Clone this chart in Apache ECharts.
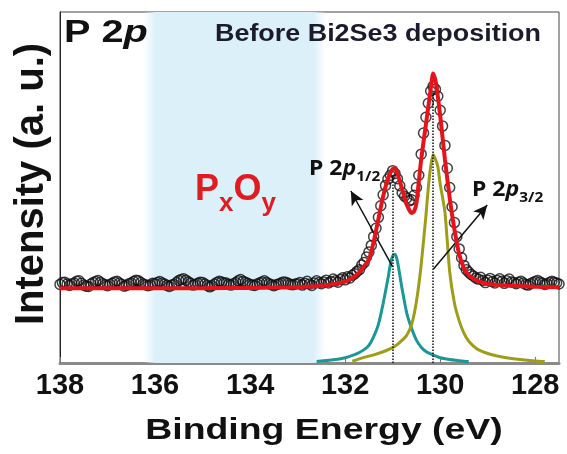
<!DOCTYPE html>
<html>
<head>
<meta charset="utf-8">
<script src="https://cdn.jsdelivr.net/npm/echarts@6.0.0/dist/echarts.min.js"></script>
<style>
  html, body { margin: 0; padding: 0; background: #fff; }
  #chart { width: 567px; height: 454px; }
</style>
</head>
<body>
<div id="chart"></div>
<script>
// measured spectrum (binding energy in eV, intensity in arbitrary units)
const expE = [
  138.00, 137.95, 137.90, 137.85, 137.80, 137.75, 137.70, 137.65, 137.60, 137.55,
  137.50, 137.45, 137.40, 137.35, 137.30, 137.25, 137.20, 137.15, 137.10, 137.05,
  137.00, 136.95, 136.90, 136.85, 136.80, 136.75, 136.70, 136.65, 136.60, 136.55,
  136.50, 136.45, 136.40, 136.35, 136.30, 136.25, 136.20, 136.15, 136.10, 136.05,
  136.00, 135.95, 135.90, 135.85, 135.80, 135.75, 135.70, 135.65, 135.60, 135.55,
  135.50, 135.45, 135.40, 135.35, 135.30, 135.25, 135.20, 135.15, 135.10, 135.05,
  135.00, 134.95, 134.90, 134.85, 134.80, 134.75, 134.70, 134.65, 134.60, 134.55,
  134.50, 134.45, 134.40, 134.35, 134.30, 134.25, 134.20, 134.15, 134.10, 134.05,
  134.00, 133.95, 133.90, 133.85, 133.80, 133.75, 133.70, 133.65, 133.60, 133.55,
  133.50, 133.45, 133.40, 133.35, 133.30, 133.25, 133.20, 133.15, 133.10, 133.05,
  133.00, 132.95, 132.90, 132.85, 132.80, 132.75, 132.70, 132.65, 132.60, 132.55,
  132.50, 132.45, 132.40, 132.35, 132.30, 132.25, 132.20, 132.15, 132.10, 132.05,
  132.00, 131.95, 131.90, 131.85, 131.80, 131.75, 131.70, 131.65, 131.60, 131.55,
  131.50, 131.45, 131.40, 131.35, 131.30, 131.25, 131.20, 131.15, 131.10, 131.05,
  131.00, 130.95, 130.90, 130.85, 130.80, 130.75, 130.70, 130.65, 130.60, 130.55,
  130.50, 130.45, 130.40, 130.35, 130.30, 130.25, 130.20, 130.15, 130.10, 130.05,
  130.00, 129.95, 129.90, 129.85, 129.80, 129.75, 129.70, 129.65, 129.60, 129.55,
  129.50, 129.45, 129.40, 129.35, 129.30, 129.25, 129.20, 129.15, 129.10, 129.05,
  129.00, 128.95, 128.90, 128.85, 128.80, 128.75, 128.70, 128.65, 128.60, 128.55,
  128.50, 128.45, 128.40, 128.35, 128.30, 128.25, 128.20, 128.15, 128.10, 128.05,
  128.00, 127.95, 127.90, 127.85, 127.80, 127.75, 127.70, 127.65, 127.60, 127.55,
  127.50
];
const expI = [
  22.4, 22.9, 23.0, 22.5, 22.1, 22.6, 22.8, 23.3, 23.4, 22.7,
  22.2, 21.9, 21.8, 22.5, 22.9, 23.2, 23.5, 23.0, 22.6, 22.3,
  22.0, 22.4, 22.7, 23.1, 23.3, 22.8, 22.4, 21.9, 22.1, 22.6,
  22.8, 23.2, 23.6, 23.4, 22.9, 22.5, 22.3, 22.0, 22.2, 22.7,
  22.6, 22.9, 23.2, 22.8, 22.5, 22.1, 21.8, 22.2, 22.4, 22.9,
  23.5, 23.8, 24.0, 23.6, 23.1, 22.7, 22.2, 22.4, 22.7, 23.0,
  22.9, 22.5, 22.1, 21.7, 22.0, 22.5, 22.9, 23.3, 23.1, 22.8,
  22.8, 22.4, 22.2, 22.6, 22.9, 23.4, 23.8, 23.3, 23.0, 22.7,
  22.4, 22.2, 22.1, 22.5, 22.8, 23.1, 23.4, 22.9, 22.6, 22.3,
  22.0, 22.3, 22.5, 22.8, 23.1, 23.0, 22.7, 22.4, 22.3, 22.5,
  22.6, 22.9, 22.2, 22.7, 23.3, 22.5, 22.1, 22.8, 23.4, 22.9,
  22.6, 23.1, 23.6, 22.8, 23.2, 23.9, 23.4, 23.0, 23.8, 24.3,
  23.7, 24.6, 24.2, 25.0, 25.4, 26.1, 26.6, 27.9, 28.6, 30.2,
  31.6, 33.5, 36.0, 38.4, 41.5, 44.8, 47.9, 50.6, 52.4, 53.5,
  54.8, 54.0, 52.5, 50.5, 48.5, 47.5, 47.0, 46.2, 46.5, 47.8,
  50.0, 53.5, 59.5, 65.5, 70.0, 74.0, 77.5, 78.8, 78.0, 76.0,
  72.0, 67.5, 62.0, 55.5, 50.0, 44.5, 40.0, 36.0, 32.5, 30.0,
  27.8, 26.6, 25.9, 25.2, 24.8, 24.2, 23.9, 24.4, 23.5, 22.9,
  23.6, 24.1, 23.2, 22.8, 23.5, 24.0, 23.3, 22.7, 23.4, 23.9,
  23.1, 22.9, 22.6, 23.0, 23.3, 22.8, 22.4, 22.2, 22.6, 22.9,
  23.2, 23.5, 23.1, 22.7, 22.4, 22.6, 22.9, 23.3, 23.0, 22.8,
  22.5
];

// fitted envelope
const fitE = [138.0, 137.0, 136.0, 135.0, 134.0, 133.5, 133.0, 132.5, 132.2, 132.0,
  131.9, 131.8, 131.7, 131.6, 131.5, 131.4, 131.3, 131.2, 131.1, 131.0,
  130.95, 130.9, 130.8, 130.7, 130.6, 130.55, 130.5, 130.4, 130.3, 130.25,
  130.2, 130.15, 130.1, 130.05, 130.0, 129.9, 129.8, 129.7, 129.6, 129.5,
  129.4, 129.3, 129.2, 129.0, 128.5, 128.0, 127.5];
const fitI = [21.3, 21.3, 21.3, 21.3, 21.4, 21.5, 21.6, 22.0, 22.6, 23.2,
  23.8, 24.6, 25.8, 27.6, 29.5, 34.5, 41.0, 47.5, 52.5, 55.3,
  55.5, 54.0, 49.5, 45.0, 42.7, 43.2, 45.5, 58.0, 68.0, 73.0,
  78.0, 82.5, 80.5, 76.0, 70.5, 58.0, 47.0, 38.0, 31.0, 27.0,
  25.0, 24.0, 23.3, 22.5, 22.0, 21.7, 21.6];

// P 2p1/2 component
const p12E = [132.6, 132.2, 132.0, 131.8, 131.7, 131.6, 131.5, 131.4, 131.3, 131.2,
  131.1, 131.05, 131.0, 130.95, 130.9, 130.8, 130.7, 130.6, 130.5, 130.4,
  130.3, 130.2, 130.0, 129.8, 129.5, 129.4];
const p12I = [0.4, 1.0, 1.5, 2.4, 3.0, 3.8, 5.0, 7.5, 11.0, 17.0,
  24.0, 28.0, 30.5, 31.0, 29.0, 21.0, 14.0, 9.8, 6.5, 4.5,
  3.3, 2.6, 1.5, 1.0, 0.5, 0.4];

// P 2p3/2 component
const p32E = [131.85, 131.6, 131.4, 131.2, 131.0, 130.9, 130.8, 130.7, 130.6, 130.5,
  130.4, 130.3, 130.25, 130.2, 130.15, 130.1, 130.05, 130.0, 129.9, 129.8,
  129.7, 129.6, 129.5, 129.4, 129.3, 129.2, 129.0, 128.8, 128.5, 128.0, 127.8];
const p32I = [0.5, 1.6, 2.3, 3.2, 4.4, 5.3, 6.5, 8.0, 11.0, 17.5,
  28.0, 42.0, 50.0, 56.0, 59.3, 58.0, 56.0, 51.0, 43.0, 26.0,
  17.0, 12.0, 8.5, 6.2, 4.8, 3.8, 2.7, 2.0, 1.3, 0.6, 0.4];

const xTicks = [138, 136, 134, 132, 130, 128];
const peakGuides = [[131.0, 53.6], [130.15, 77.0]];   // dotted lines from axis to peak
const arrows = [[[131.0, 27.4], [131.88, 49.0]], [[130.14, 26.8], [129.01, 45.0]]];
const oxideBand = [136.25, 132.4];

const pairs = (xs, ys) => xs.map((x, i) => [x, ys[i]]);

const chart = echarts.init(document.getElementById('chart'));

const bandColor = new echarts.graphic.LinearGradient(0, 0, 1, 0, [
  { offset: 0, color: 'rgba(220,240,250,0)' },
  { offset: 0.07, color: '#dcf0fa' },
  { offset: 0.93, color: '#dcf0fa' },
  { offset: 1, color: 'rgba(220,240,250,0)' },
]);

const peakLabel = (sub) => ({
  text: '{m|P 2}{i|p}{s|' + sub + '}',
  verticalAlign: 'top',
  rich: {
    m: { fontFamily: 'Noto Sans', fontWeight: 'bold', fontSize: 21, lineHeight: 29, fill: '#111' },
    i: { fontFamily: 'Noto Sans', fontWeight: 'bold', fontStyle: 'italic', fontSize: 21, lineHeight: 29, fill: '#111' },
    s: { fontFamily: 'Noto Sans', fontWeight: 'bold', fontSize: 14, lineHeight: 14, verticalAlign: 'bottom', fill: '#111' },
  },
});

const option = {
  animation: false,
  grid: {
    left: 60, right: 8, top: 12, bottom: 91,
    show: true, borderColor: '#444', borderWidth: 1,
  },
  xAxis: {
    type: 'value',
    inverse: true,
    min: 127.5,
    max: 138,
    splitLine: { show: false },
    axisLine: { lineStyle: { color: '#8a8a8a', width: 3 } },
    axisTick: {
      inside: true, length: 6, customValues: xTicks,
      lineStyle: { color: '#777', width: 1 },
    },
    axisLabel: {
      customValues: xTicks,
      margin: 8,
      color: '#111',
      fontFamily: 'Liberation Sans',
      fontWeight: 'bold',
      fontSize: 29,
    },
  },
  yAxis: {
    type: 'value',
    min: 0,
    max: 100,
    splitLine: { show: false },
    axisTick: { show: false },
    axisLabel: { show: false },
    axisLine: { show: true, lineStyle: { color: '#222', width: 1 } },
  },
  series: [
    {
      type: 'line',
      data: [],
      z: 1,
      silent: true,
      markArea: {
        silent: true,
        itemStyle: { color: bandColor },
        data: [[{ xAxis: oxideBand[0] }, { xAxis: oxideBand[1] }]],
      },
    },
    {
      type: 'line',
      data: pairs(p12E, p12I),
      showSymbol: false,
      smooth: 0.2,
      z: 3,
      lineStyle: { color: '#1b9797', width: 3 },
    },
    {
      type: 'line',
      data: pairs(p32E, p32I),
      showSymbol: false,
      smooth: 0.2,
      z: 3,
      lineStyle: { color: '#9d9d1a', width: 3 },
    },
    {
      type: 'scatter',
      data: pairs(expE, expI),
      symbol: 'circle',
      symbolSize: 10,
      z: 4,
      itemStyle: { color: 'rgba(0,0,0,0)', borderColor: '#111', borderWidth: 1.5 },
    },
    {
      type: 'line',
      data: pairs(fitE, fitI),
      showSymbol: false,
      smooth: 0.2,
      z: 5,
      lineStyle: { color: '#e4141b', width: 4 },
    },
    {
      type: 'line',
      data: [],
      z: 6,
      silent: true,
      markLine: {
        silent: true,
        symbol: ['none', 'none'],
        label: { show: false },
        lineStyle: { color: '#111', type: 'dotted', width: 1.5 },
        data: peakGuides.map(([x, y]) => [{ coord: [x, 0] }, { coord: [x, y] }]),
      },
    },
    {
      type: 'line',
      data: [],
      z: 7,
      silent: true,
      markLine: {
        silent: true,
        symbol: ['none', 'arrow'],
        symbolSize: [10, 14],
        label: { show: false },
        lineStyle: { color: '#111', type: 'solid', width: 1.5 },
        data: arrows.map(([a, b]) => [{ coord: a }, { coord: b }]),
      },
    },
  ],
  graphic: [
    {
      type: 'text', x: 64, y: 16, scaleX: 1.24, z: 10,
      style: {
        text: '{a|P 2}{b|p}',
        verticalAlign: 'top',
        rich: {
          a: { fontFamily: 'Liberation Sans', fontWeight: 'bold', fontSize: 32, lineHeight: 34, fill: '#111' },
          b: { fontFamily: 'Liberation Sans', fontWeight: 'bold', fontStyle: 'italic', fontSize: 32, lineHeight: 34, fill: '#111' },
        },
      },
    },
    {
      type: 'text', x: 215, y: 35, scaleX: 1.17, z: 10,
      style: {
        text: 'Before Bi2Se3 deposition',
        fontFamily: 'Liberation Sans', fontWeight: 'bold', fontSize: 23,
        fill: '#1b1b2b', align: 'left', verticalAlign: 'middle',
      },
    },
    {
      type: 'text', x: 195, y: 164, z: 10,
      style: {
        text: '{m|P}{s|x}{m|O}{s|y}',
        verticalAlign: 'top',
        rich: {
          m: { fontFamily: 'Liberation Sans', fontWeight: 'bold', fontSize: 36, lineHeight: 53, fill: '#e01b22' },
          s: { fontFamily: 'Liberation Sans', fontWeight: 'bold', fontSize: 26, lineHeight: 26, verticalAlign: 'bottom', fill: '#e01b22' },
        },
      },
    },
    { type: 'text', x: 309, y: 155, scaleX: 1.1, z: 10, style: peakLabel('1/2') },
    { type: 'text', x: 472, y: 176, scaleX: 1.1, z: 10, style: peakLabel('3/2') },
    {
      type: 'text', x: 32, y: 184, rotation: Math.PI / 2, z: 10,
      style: {
        text: 'Intensity (a. u.)',
        fontFamily: 'Liberation Sans', fontWeight: 'bold', fontSize: 40,
        fill: '#111', align: 'center', verticalAlign: 'middle',
      },
    },
    {
      type: 'text', x: 324, y: 431, scaleX: 1.29, z: 10,
      style: {
        text: 'Binding Energy (eV)',
        fontFamily: 'Liberation Sans', fontWeight: 'bold', fontSize: 29,
        fill: '#111', align: 'center', verticalAlign: 'middle',
      },
    },
  ],
};

chart.setOption(option);
</script>
</body>
</html>
